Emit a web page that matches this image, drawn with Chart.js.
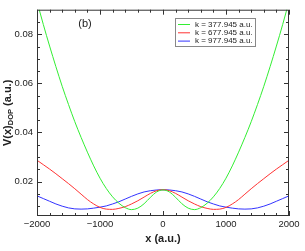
<!DOCTYPE html>
<html>
<head>
<meta charset="utf-8">
<script src="https://cdn.jsdelivr.net/npm/chart.js@4.4.0/dist/chart.umd.min.js"></script>
<style>
  html, body { margin: 0; padding: 0; background: #fff; }
</style>
</head>
<body>
<canvas id="dopChart" width="305" height="251"></canvas>
<script>
// x positions (a.u.) and V(x)_DOP values
const xValues = [-2000, -1900, -1800, -1700, -1600, -1500, -1400, -1300, -1200, -1100,
                 -1000, -900, -800, -700, -600, -500, -400, -300, -200, -100,
                 0, 100, 200, 300, 400, 500, 600, 700, 800, 900,
                 1000, 1100, 1200, 1300, 1400, 1500, 1600, 1700, 1800, 1900, 2000];

const vGreen = [0.0934, 0.0840, 0.0752, 0.0668, 0.0588, 0.0514, 0.0444, 0.0380, 0.0320, 0.0264,
                0.0214, 0.0172, 0.0138, 0.0112, 0.0094, 0.0086, 0.0092, 0.0110, 0.0136, 0.0158,
                0.0166, 0.0158, 0.0136, 0.0110, 0.0092, 0.0086, 0.0094, 0.0112, 0.0138, 0.0172,
                0.0214, 0.0264, 0.0320, 0.0380, 0.0444, 0.0514, 0.0588, 0.0668, 0.0752, 0.0840, 0.0934];

const vRed = [0.0287, 0.0269, 0.0251, 0.0232, 0.0212, 0.0192, 0.0171, 0.0149, 0.0127, 0.0109,
              0.0095, 0.0088, 0.0087, 0.0091, 0.0098, 0.0109, 0.0122, 0.0137, 0.0152, 0.0163,
              0.0167, 0.0163, 0.0152, 0.0137, 0.0122, 0.0109, 0.0098, 0.0091, 0.0087, 0.0088,
              0.0095, 0.0109, 0.0127, 0.0149, 0.0171, 0.0192, 0.0212, 0.0232, 0.0251, 0.0269, 0.0287];

const vBlue = [0.0142, 0.0131, 0.0120, 0.0109, 0.0100, 0.0093, 0.0089, 0.0088, 0.0089, 0.0092,
               0.0096, 0.0101, 0.0109, 0.0118, 0.0129, 0.0140, 0.0150, 0.0158, 0.0163, 0.0166,
               0.0167, 0.0166, 0.0163, 0.0158, 0.0150, 0.0140, 0.0129, 0.0118, 0.0109, 0.0101,
               0.0096, 0.0092, 0.0089, 0.0088, 0.0089, 0.0093, 0.0100, 0.0109, 0.0120, 0.0131, 0.0142];

const seriesLabels = ['k = 377.945 a.u.', 'k = 677.945 a.u.', 'k = 977.945 a.u.'];
const seriesColors = ['#33ee33', '#ff3333', '#3333ff'];
const xTicks = [-2000, -1000, 0, 1000, 2000];
const yTicks = [0.02, 0.04, 0.06, 0.08];

const FONT = "'Liberation Sans', Arial, sans-serif";

function toPoints(vals) {
    return xValues.map((x, i) => ({ x: x, y: vals[i] }));
}

// frame with inward ticks on all four sides
const frameTicks = {
    id: 'frameTicks',
    afterDatasetsDraw(chart) {
        const { ctx, chartArea: a, scales: { x, y } } = chart;
        ctx.save();
        ctx.strokeStyle = '#333';
        ctx.lineWidth = 1;
        ctx.strokeRect(a.left + 0.5, a.top + 0.5, a.right - a.left - 1, a.bottom - a.top - 1);
        ctx.beginPath();
        for (let v = -2000; v <= 2000; v += 200) {
            const px = Math.round(x.getPixelForValue(v)) + 0.5;
            const len = v % 1000 === 0 ? 5 : 3;
            ctx.moveTo(px, a.bottom); ctx.lineTo(px, a.bottom - len);
            ctx.moveTo(px, a.top); ctx.lineTo(px, a.top + len);
        }
        for (let i = 2; i <= 17; i++) {
            const v = i * 0.005;
            const py = Math.round(y.getPixelForValue(v)) + 0.5;
            const len = i % 4 === 0 ? 5 : 3;
            ctx.moveTo(a.left, py); ctx.lineTo(a.left + len, py);
            ctx.moveTo(a.right, py); ctx.lineTo(a.right - len, py);
        }
        ctx.stroke();
        ctx.restore();
    }
};

// legend box inside the plot, plus panel tag and axis titles
const annotations = {
    id: 'annotations',
    afterDraw(chart) {
        const { ctx, chartArea: a } = chart;
        ctx.save();

        ctx.fillStyle = '#fff';
        ctx.fillRect(175, 18, 80, 28);
        ctx.strokeStyle = '#888';
        ctx.lineWidth = 1;
        ctx.strokeRect(175.5, 18.5, 80, 28);
        ctx.font = '8px ' + FONT;
        ctx.textBaseline = 'middle';
        chart.data.datasets.forEach((ds, i) => {
            const ry = 24.5 + i * 8.3;
            ctx.strokeStyle = ds.borderColor;
            ctx.beginPath();
            ctx.moveTo(178, ry); ctx.lineTo(190, ry);
            ctx.stroke();
            ctx.fillStyle = '#222';
            ctx.fillText(ds.label, 195, ry);
        });

        ctx.fillStyle = '#222';
        ctx.font = '11px ' + FONT;
        ctx.textAlign = 'center';
        ctx.fillText('(b)', 85, 24);

        ctx.font = 'bold 11px ' + FONT;
        ctx.fillText('x (a.u.)', (a.left + a.right) / 2, 239);

        // y title with subscript
        const big = 'bold 11px ' + FONT, small = 'bold 7.5px ' + FONT;
        ctx.font = big; const w1 = ctx.measureText('V(x)').width;
        const w3 = ctx.measureText(' (a.u.)').width;
        ctx.font = small; const w2 = ctx.measureText('DOP').width;
        const total = w1 + w2 + w3;
        ctx.translate(8, (a.top + a.bottom) / 2);
        ctx.rotate(-Math.PI / 2);
        ctx.textAlign = 'left';
        let cx = -total / 2;
        ctx.font = big; ctx.fillText('V(x)', cx, 0); cx += w1;
        ctx.font = small; ctx.fillText('DOP', cx, 2.5); cx += w2;
        ctx.font = big; ctx.fillText(' (a.u.)', cx, 0);
        ctx.restore();
    }
};

new Chart(document.getElementById('dopChart'), {
    type: 'line',
    data: {
        datasets: [vGreen, vRed, vBlue].map((vals, i) => ({
            label: seriesLabels[i],
            data: toPoints(vals),
            borderColor: seriesColors[i],
            borderWidth: 1,
            pointRadius: 0,
            fill: false,
            cubicInterpolationMode: 'monotone'
        }))
    },
    options: {
        responsive: false,
        animation: false,
        layout: { padding: { top: 2, right: 16, left: 0, bottom: 0 } },
        plugins: { legend: { display: false }, tooltip: { enabled: false } },
        scales: {
            x: {
                type: 'linear', min: -2000, max: 2000,
                afterBuildTicks: s => { s.ticks = xTicks.map(v => ({ value: v })); },
                afterFit: s => { s.height = 35; },
                grid: { display: false, drawTicks: false, tickLength: 0 },
                border: { display: false },
                ticks: {
                    padding: 3, color: '#222', maxRotation: 0, autoSkip: false,
                    font: { family: FONT, size: 9.5 },
                    callback: v => v < 0 ? '\u2212' + Math.abs(v) : String(v)
                }
            },
            y: {
                min: 0.006, max: 0.09,
                afterBuildTicks: s => { s.ticks = yTicks.map(v => ({ value: v })); },
                afterFit: s => { s.width = 37; },
                grid: { display: false, drawTicks: false, tickLength: 0 },
                border: { display: false },
                ticks: {
                    padding: 4, color: '#222', autoSkip: false,
                    font: { family: FONT, size: 9.5 },
                    callback: v => v.toFixed(2)
                }
            }
        }
    },
    plugins: [frameTicks, annotations]
});
</script>
</body>
</html>
